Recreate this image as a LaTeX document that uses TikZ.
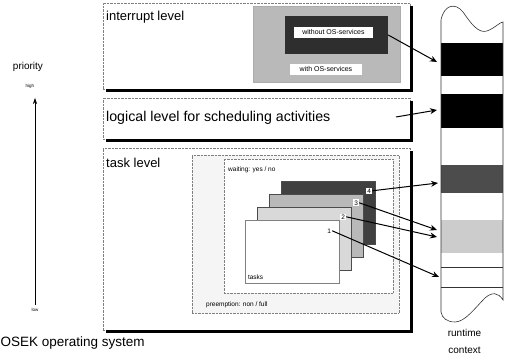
\documentclass[tikz,border=0pt]{standalone}
\usepackage{fontspec}
\setmainfont{Liberation Sans}
\usepackage{tikz}
\usetikzlibrary{shapes, arrows.meta, positioning}
\tikzstyle{levelbox} = [rectangle, draw=gray, densely dotted, fill=white, minimum width=307pt]
\tikzstyle{shadowline} = [line width=3pt, black]
\tikzstyle{leveltitle} = [anchor=west, inner sep=0pt, font=\fontsize{13}{15}\selectfont]
\tikzstyle{smalltext} = [anchor=west, inner sep=0pt, font=\fontsize{6.5}{8}\selectfont]
\tikzstyle{servicelabel} = [rectangle, fill=white, inner sep=0pt, minimum height=11pt, font=\fontsize{7}{8}\selectfont]
\tikzstyle{card} = [rectangle, minimum width=94pt, minimum height=63pt, draw=black!70]
\tikzstyle{num} = [rectangle, fill=white, inner sep=1pt, font=\fontsize{6.5}{7}\selectfont]
\tikzstyle{pointer} = [line width=1pt, -{Stealth[length=7pt, width=6pt]}]
\tikzstyle{caption} = [font=\fontsize{10}{12}\selectfont, inner sep=0pt]
\tikzstyle{tiny} = [font=\fontsize{4.5}{5}\selectfont, inner sep=0pt]

\begin{document}
\begin{tikzpicture}[x=1pt, y=1pt, node distance=13pt]
\useasboundingbox (0,0) rectangle (506,358);
\node (intr) [levelbox, minimum height=86pt] at (256.5,312) {};
\node (logic) [levelbox, minimum height=41pt] at (256.5,239.5) {};
\node (task) [levelbox, minimum height=182pt] at (256.5,119) {};
\foreach \b in {intr, logic, task}
  \draw [shadowline] ([xshift=3pt, yshift=-1.5pt]\b.south west) -| ([xshift=1.5pt, yshift=-3pt]\b.north east);
\node (intrtitle) [leveltitle] at (106,341) {interrupt level};
\node (logictitle) [leveltitle, font=\fontsize{14.2}{16}\selectfont] at (106,240) {logical level for scheduling activities};
\node (tasktitle) [leveltitle] at (106,195) {task level};
\node (intrgray) [rectangle, fill=gray!55, draw=gray!65, minimum width=147pt, minimum height=76pt] at (326.5,314) {};
\node (intrdark) [rectangle, fill=black!82, minimum width=103pt, minimum height=38pt] at (336.5,323) {};
\node (without) [servicelabel, minimum width=79pt] at (333.5,325.5) {without OS-services};
\node (with) [servicelabel, minimum width=72pt] at (326,288.5) {with OS-services};
\node (preempt) [rectangle, draw=gray, densely dotted, fill=gray!8, minimum width=207pt, minimum height=158pt] at (295.5,124) {};
\node (waiting) [rectangle, draw=gray, densely dotted, fill=white, minimum width=169pt, minimum height=134pt] at (308.5,132) {};
\node (waitingtext) [smalltext] at (228,188) {waiting: yes / no};
\node (preempttext) [smalltext] at (206,53) {preemption: non / full};
\node (c4) [card, fill=black!75] at (328,145.5) {};
\node (c3) [card, fill=gray!55, below of=c4, xshift=-12pt] {};
\node (c2) [card, fill=gray!30, below of=c3, xshift=-12pt] {};
\node (c1) [card, fill=white, draw=gray, below of=c2, xshift=-12pt] {};
\node (tasks) [smalltext] at ([xshift=3pt, yshift=6pt]c1.south west) {tasks};
\node (n4) [num] at ([xshift=-6pt, yshift=-10pt]c4.north east) {4};
\node (n3) [num] at ([xshift=-7pt, yshift=-9pt]c3.north east) {3};
\node (n2) [num] at ([xshift=-8pt, yshift=-10pt]c2.north east) {2};
\node (n1) [num, fill=none] at ([xshift=-10pt, yshift=-11pt]c1.north east) {1};
\fill [black] (441,315) rectangle (503,282);
\fill [black] (441,264) rectangle (503,230);
\fill [black!70] (441,193) rectangle (503,165);
\fill [gray!40] (441,138) rectangle (503,105);
\draw [black!80, line width=0.6pt] (441,91) -- (503,91);
\draw [black!80, line width=0.6pt] (441,71) -- (503,71);
\draw [black!80, line width=0.6pt] (441,338) .. controls (444,353) and (455,356) .. (463,346) .. controls (470,336) and (478,324) .. (487,327) .. controls (495,330) and (500,336) .. (503,336) -- (503,58) .. controls (498,66) and (492,66) .. (485,60) .. controls (475,50) and (465,36) .. (455,36) .. controls (447,36) and (442,40) .. (441,46) -- cycle;
\node (runtime) [caption] at (464.5,25) {runtime};
\node (context) [caption] at (464.5,8) {context};
\coordinate (r1) at (437,296);
\coordinate (s2) at (396,241);
\coordinate (r2) at (437,248);
\coordinate (r3) at (438,175);
\coordinate (r4) at (437,128);
\coordinate (r5) at (437,121);
\coordinate (r6) at (439,81);
\draw [pointer] (intrdark.east) -- (r1);
\draw [pointer] (s2) -- (r2);
\draw [pointer] (n4.east) -- (r3);
\draw [pointer] (n3.east) -- (r4);
\draw [pointer] (n2.east) -- (r5);
\draw [pointer] (n1.east) -- (r6);
\node (priority) [caption] at (28,291) {priority};
\node (high) [tiny] at (30,272) {high};
\node (low) [tiny] at (35,48) {low};
\coordinate (pbottom) at (35,53);
\coordinate (ptop) at (35,260);
\draw [line width=0.6pt, -{Stealth[length=6pt, width=4pt]}] (pbottom) -- (ptop);
\node (osek) [caption, anchor=west, font=\fontsize{13.5}{15}\selectfont] at (0.5,15) {OSEK operating system};
\end{tikzpicture}
\end{document}
